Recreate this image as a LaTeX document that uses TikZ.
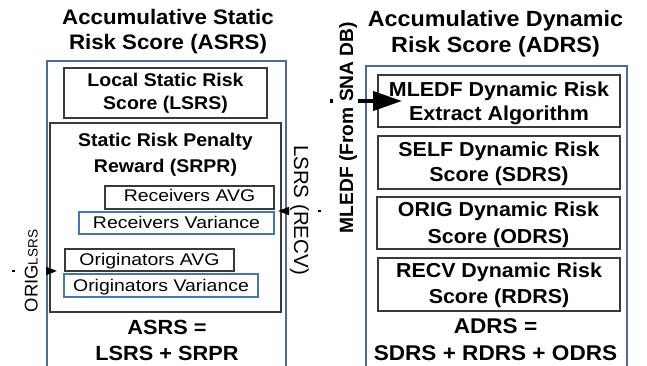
\documentclass[tikz,border=0pt]{standalone}
\usepackage{fontspec}
\setmainfont{Liberation Sans}
\usepackage{graphicx}
\usetikzlibrary{arrows.meta}

\definecolor{outerblue}{HTML}{4F6A9A}
\definecolor{innerblue}{HTML}{4472C4}
\definecolor{boxgray}{HTML}{3A3A3A}

% bold and regular text, slightly widened
\newcommand\boldtxt[2]{\scalebox{1.06}[1]{\fontsize{#1}{#1}\selectfont\bfseries #2}}
\newcommand\plaintxt[2]{\scalebox{1.15}[1]{\fontsize{#1}{#1}\selectfont #2}}

\begin{document}
\begin{tikzpicture}[x=1pt,y=-1pt,
  outerbox/.style={draw=outerblue,line width=1.5pt,inner sep=0pt},
  graybox/.style={draw=boxgray,line width=1.8pt,inner sep=0pt},
  bluebox/.style={draw=innerblue,line width=1.4pt,inner sep=0pt},
  lbl/.style={anchor=base,inner sep=0pt,text=black},
  feed/.style={draw=black,line width=1.6pt,dash pattern=on 3pt off 40pt,
    -{Triangle[length=11pt,width=8pt]}},
  bigfeed/.style={draw=black,line width=4pt,dash pattern=on 3pt off 25pt on 100pt off 0pt,
    -{Triangle[length=29pt,width=19pt]}}]
\useasboundingbox (0,0) rectangle (647,366);
\fill[white] (0,0) rectangle (647,366);
\clip (0,0) rectangle (647,366);

% ---------- static side ----------
\node[lbl] (ltitA) at (168,25) {\boldtxt{21}{Accumulative Static}};
\node[lbl] (ltitB) at (168,50) {\boldtxt{21}{Risk Score (ASRS)}};
\node[outerbox,minimum width=239pt,minimum height=330pt] (asrs) at (166.5,226) {};

\node[graybox,minimum width=203pt,minimum height=50pt] (lsrs) at (165.5,93) {};
\node[lbl] (lsrsA) at (165.5,87) {\boldtxt{18.4}{Local Static Risk}};
\node[lbl] (lsrsB) at (165.5,110) {\boldtxt{18.4}{Score (LSRS)}};

\node[graybox,minimum width=231pt,minimum height=189pt] (srpr) at (165.5,217.5) {};
\node[lbl] (srprA) at (165.5,147) {\boldtxt{18.4}{Static Risk Penalty}};
\node[lbl] (srprB) at (165.5,172) {\boldtxt{18.4}{Reward (SRPR)}};

\node[graybox,line width=1.5pt,minimum width=169pt,minimum height=23pt] (ravg) at (189.5,197.5) {};
\node[lbl] (ravgT) at (189.5,201.5) {\plaintxt{16.9}{Receivers AVG}};
\node[bluebox,minimum width=195pt,minimum height=22pt] (rvar) at (176.5,223) {};
\node[lbl] (rvarT) at (176.5,228) {\plaintxt{16.9}{Receivers Variance}};

\node[graybox,line width=1.5pt,minimum width=169pt,minimum height=22pt] (oavg) at (149.5,260) {};
\node[lbl] (oavgT) at (149.5,265) {\plaintxt{16.9}{Originators AVG}};
\node[bluebox,minimum width=194pt,minimum height=23pt] (ovar) at (161,285.5) {};
\node[lbl] (ovarT) at (161,291) {\plaintxt{16.9}{Originators Variance}};

\node[lbl] (asrsA) at (167,334) {\boldtxt{20.5}{ASRS =}};
\node[lbl] (asrsB) at (167,360) {\boldtxt{20.5}{LSRS + SRPR}};

% side inputs of the static score
\node[lbl,rotate=90] (origin) at (37.5,271)
  {\fontsize{18.4}{18.4}\selectfont ORIG\fontsize{13.5}{13.5}\selectfont LSRS};
\node[lbl,rotate=-90] (recvin) at (294,210)
  {\fontsize{20.5}{20.5}\selectfont LSRS (RECV)};
\coordinate (origS) at (12,271);
\coordinate (origT) at (57,271);
\coordinate (recvS) at (321,211);
\coordinate (recvT) at (278,211);
\draw[feed] (origS) -- (origT);
\draw[feed] (recvS) -- (recvT);

% ---------- dynamic side ----------
\node[lbl] (rtitA) at (495.5,27) {\boldtxt{22}{Accumulative Dynamic}};
\node[lbl] (rtitB) at (495.5,53) {\boldtxt{22}{Risk Score (ADRS)}};
\node[outerbox,minimum width=261pt,minimum height=330pt] (adrs) at (496.5,231) {};

\node[graybox,minimum width=242pt,minimum height=52pt] (mledf) at (499,101) {};
\node[lbl] (mledfA) at (499,97) {\boldtxt{20.2}{MLEDF Dynamic Risk}};
\node[lbl] (mledfB) at (499,121) {\boldtxt{20.2}{Extract Algorithm}};

\node[graybox,minimum width=242pt,minimum height=53pt] (sdrs) at (499,162.5) {};
\node[lbl] (sdrsA) at (499,157) {\boldtxt{20.2}{SELF Dynamic Risk}};
\node[lbl] (sdrsB) at (499,182) {\boldtxt{20.2}{Score (SDRS)}};

\node[graybox,minimum width=243pt,minimum height=52pt] (odrs) at (498.5,223) {};
\node[lbl] (odrsA) at (498.5,216) {\boldtxt{20.2}{ORIG Dynamic Risk}};
\node[lbl] (odrsB) at (498.5,243) {\boldtxt{20.2}{Score (ODRS)}};

\node[graybox,minimum width=242pt,minimum height=53pt] (rdrs) at (499,284.5) {};
\node[lbl] (rdrsA) at (499,277) {\boldtxt{20.2}{RECV Dynamic Risk}};
\node[lbl] (rdrsB) at (499,303) {\boldtxt{20.2}{Score (RDRS)}};

\node[lbl] (adrsA) at (495.5,333) {\boldtxt{21.3}{ADRS =}};
\node[lbl] (adrsB) at (495.5,360) {\boldtxt{21.3}{SDRS + RDRS + ODRS}};

% external input of the dynamic score
\node[lbl,rotate=90] (snadb) at (353,127.5)
  {\fontsize{19.2}{19.2}\selectfont\bfseries MLEDF (From SNA DB)};
\coordinate (snaS) at (330,101);
\draw[bigfeed] (snaS) -- (mledf.west -| 402,101);
\end{tikzpicture}
\end{document}
